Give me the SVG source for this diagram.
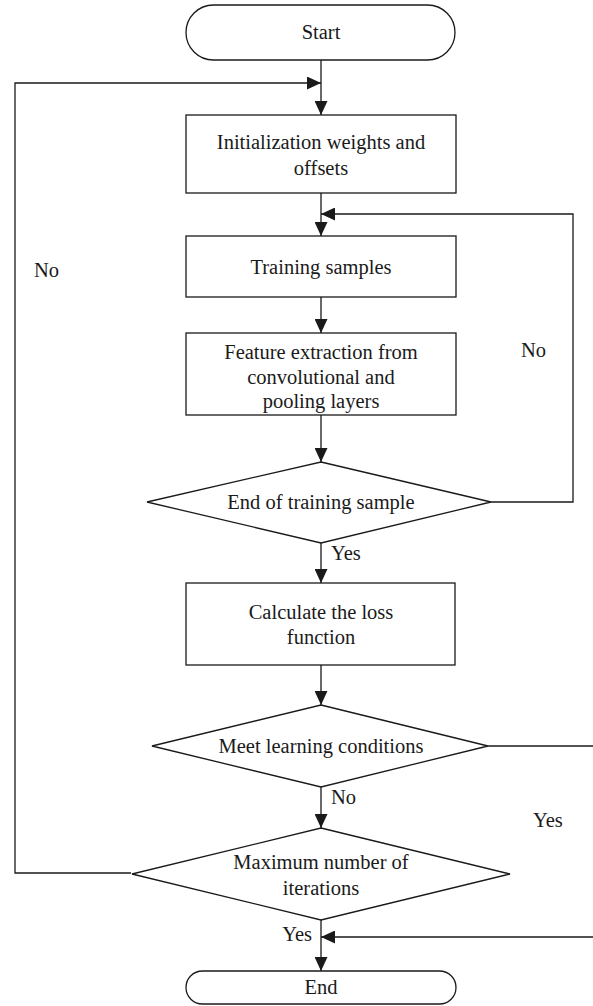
<svg xmlns="http://www.w3.org/2000/svg" width="593" height="1006" viewBox="0 0 593 1006">
<style>
.n{fill:#fff;stroke:#1a1a1a;stroke-width:1.3}
.c{fill:none;stroke:#1a1a1a;stroke-width:1.3}
text{font-family:"Liberation Serif",serif;font-size:20.5px;fill:#1a1a1a}
.m{text-anchor:middle;dominant-baseline:central}
</style>
<defs>
<marker id="a" viewBox="0 0 14 13" refX="14" refY="6.5" markerWidth="14" markerHeight="13" markerUnits="userSpaceOnUse" orient="auto">
<path d="M0,0 L14,6.5 L0,13 Z" fill="#1a1a1a"/>
</marker>
</defs>
<rect width="593" height="1006" fill="#fff"/>
<g id="connectors">
<line class="c" x1="321" y1="60" x2="321" y2="115" marker-end="url(#a)"/>
<polyline class="c" points="131,873 15,873 15,83 321,83" marker-end="url(#a)"/>
<line class="c" x1="321" y1="193" x2="321" y2="236" marker-end="url(#a)"/>
<polyline class="c" points="491,502 573,502 573,214 321,214" marker-end="url(#a)"/>
<line class="c" x1="321" y1="297" x2="321" y2="333" marker-end="url(#a)"/>
<line class="c" x1="321" y1="415" x2="321" y2="462" marker-end="url(#a)"/>
<line class="c" x1="321" y1="543" x2="321" y2="583" marker-end="url(#a)"/>
<line class="c" x1="321" y1="665" x2="321" y2="705" marker-end="url(#a)"/>
<line class="c" x1="488" y1="746" x2="593" y2="746"/>
<line class="c" x1="321" y1="787" x2="321" y2="828" marker-end="url(#a)"/>
<line class="c" x1="321" y1="920" x2="321" y2="971" marker-end="url(#a)"/>
<line class="c" x1="593" y1="937" x2="321" y2="937" marker-end="url(#a)"/>
<text x="331" y="553" class="m" style="text-anchor:start">Yes</text>
<text x="331" y="797" class="m" style="text-anchor:start">No</text>
<text x="533" y="820" class="m" style="text-anchor:start">Yes</text>
<text x="34" y="270" class="m" style="text-anchor:start">No</text>
<text x="521" y="350" class="m" style="text-anchor:start">No</text>
<text x="312" y="934" class="m" style="text-anchor:end">Yes</text>
</g>
<g id="start">
<rect class="n" x="186" y="5" width="269" height="55" rx="27.5"/>
<text x="321" y="32" class="m">Start</text>
</g>
<g id="init">
<rect class="n" x="186" y="115" width="270" height="78"/>
<text x="321" y="142" class="m">Initialization weights and</text>
<text x="321" y="168" class="m">offsets</text>
</g>
<g id="training">
<rect class="n" x="186" y="236" width="270" height="61"/>
<text x="321" y="267" class="m">Training samples</text>
</g>
<g id="feature">
<rect class="n" x="186" y="333" width="270" height="82"/>
<text x="321" y="352" class="m">Feature extraction from</text>
<text x="321" y="377" class="m">convolutional and</text>
<text x="321" y="401" class="m">pooling layers</text>
</g>
<g id="endTraining">
<polygon class="n" points="321,462 491,502 321,543 147,502"/>
<text x="321" y="502" class="m">End of training sample</text>
</g>
<g id="loss">
<rect class="n" x="186" y="583" width="269" height="82"/>
<text x="321" y="612" class="m">Calculate the loss</text>
<text x="321" y="637" class="m">function</text>
</g>
<g id="meet">
<polygon class="n" points="321,705 488,746 321,787 152,746"/>
<text x="321" y="746" class="m">Meet learning conditions</text>
</g>
<g id="maxIter">
<polygon class="n" points="321,828 510,874 321,920 132,874"/>
<text x="321" y="862" class="m">Maximum number of</text>
<text x="321" y="888" class="m">iterations</text>
</g>
<g id="end">
<rect class="n" x="186" y="971" width="270" height="33" rx="16.5"/>
<text x="321" y="987" class="m">End</text>
</g>
</svg>
